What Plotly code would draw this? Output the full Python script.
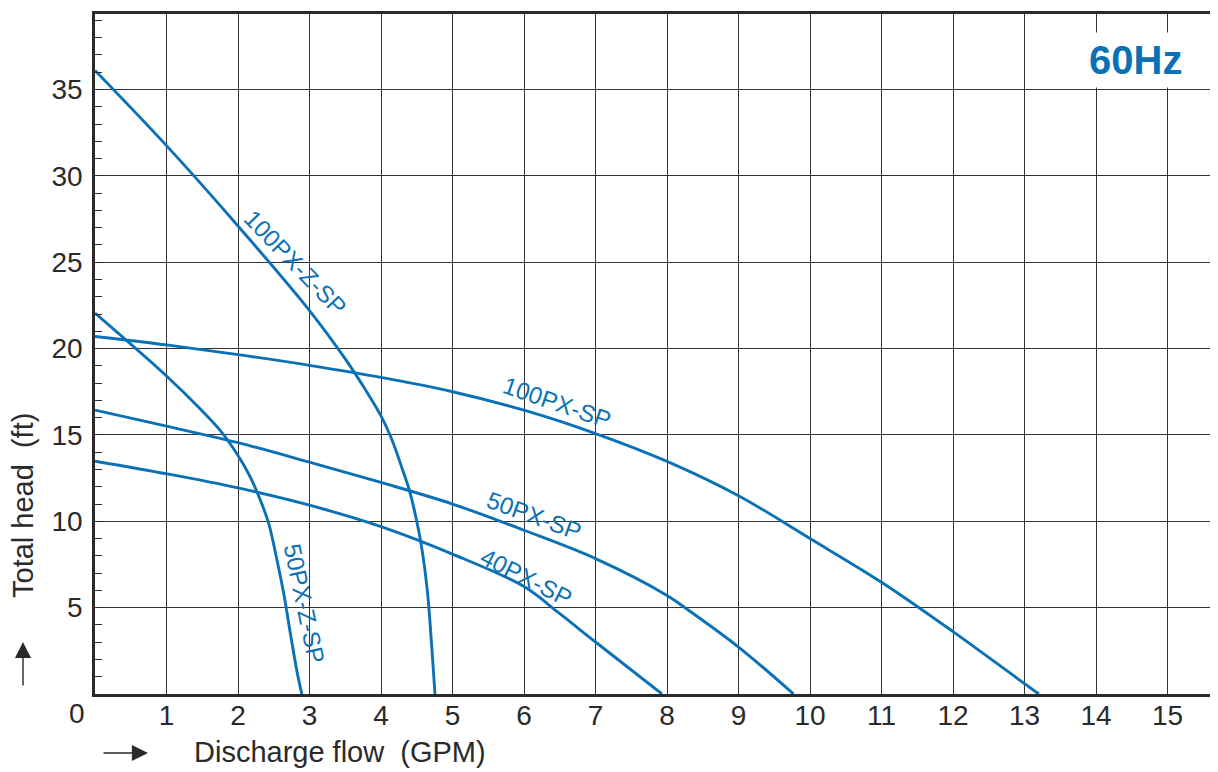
import plotly.graph_objects as go

# ---- data ----
q_100pxzsp = [0, 1, 2, 3, 3.5, 3.8, 4.0, 4.15, 4.3, 4.4, 4.5, 4.58, 4.65, 4.71, 4.755]
h_100pxzsp = [36.1, 31.75, 27.1, 22.2, 19.4, 17.5, 16.1, 14.75, 13.0, 11.75, 10.0, 8.2, 5.9, 2.73, 0]

q_100pxsp = [0, 1, 2, 3, 4, 5, 6, 7, 8, 9, 10, 11, 12, 13, 13.2]
h_100pxsp = [20.7, 20.21, 19.65, 19.03, 18.33, 17.5, 16.43, 15.08, 13.47, 11.48, 9.0, 6.47, 3.61, 0.6, 0]

q_50pxsp = [0, 1, 2, 3, 4, 5, 6, 7, 8, 8.25, 9, 9.77]
h_50pxsp = [16.44, 15.51, 14.55, 13.42, 12.25, 11.0, 9.48, 7.84, 5.71, 5.0, 2.72, 0]

q_40pxsp = [0, 1, 2, 3, 4, 5, 6, 6.5, 7, 7.93]
h_40pxsp = [13.48, 12.75, 11.93, 10.93, 9.69, 8.1, 6.22, 4.65, 3.01, 0]

q_50pxzsp = [0, 1.0, 1.473, 1.753, 2.0, 2.172, 2.312, 2.429, 2.545, 2.639, 2.732, 2.825, 2.892]
h_50pxzsp = [22.05, 18.41, 16.5, 15.25, 13.81, 12.56, 11.23, 9.88, 7.76, 5.83, 3.52, 1.3, 0]

x_ticks = list(range(1, 16))
y_ticks = [5, 10, 15, 20, 25, 30, 35]

series = [
    ("100PX-Z-SP", q_100pxzsp, h_100pxzsp),
    ("100PX-SP", q_100pxsp, h_100pxsp),
    ("50PX-SP", q_50pxsp, h_50pxsp),
    ("40PX-SP", q_40pxsp, h_40pxsp),
    ("50PX-Z-SP", q_50pxzsp, h_50pxzsp),
]

# curve labels: (text, x, y, angle) in data units
curve_labels = [
    ("100PX-Z-SP", 2.8, 24.98, 46),
    ("100PX-SP", 6.46, 16.87, 19),
    ("50PX-SP", 6.14, 10.36, 20),
    ("40PX-SP", 6.04, 6.76, 27),
    ("50PX-Z-SP", 2.93, 5.25, 78),
]

BLUE = "#0a71b6"
DARK = "#2a2a2a"
FONT = "Liberation Sans, Arial, Helvetica, sans-serif"

W, H = 1218, 772
OFF = 8  # page body offset
L, T = 87, 6
B = 86
R = 0
pw, ph = W - L - R, H - T - B

def px(xs):
    return (xs - OFF - L) / pw

def py(ys):
    return (H - B - (ys - OFF)) / ph

fig = go.Figure()
for name, q, h in series:
    fig.add_trace(go.Scatter(x=q, y=h, mode="lines", name=name,
                             line=dict(color=BLUE, width=2.9, shape="spline", smoothing=1.0),
                             showlegend=False))

annotations = []
for text, x, y, ang in curve_labels:
    annotations.append(dict(x=x, y=y, xref="x", yref="y", text=text, showarrow=False,
                            xanchor="center", yanchor="middle",
                            textangle=ang, font=dict(family=FONT, size=24, color=BLUE)))

def txt(xs, ys, text, size, color=DARK, angle=0, **kw):
    d = dict(x=px(xs), y=py(ys), xref="paper", yref="paper", text=text, showarrow=False,
             xanchor="center", yanchor="middle", textangle=angle,
             font=dict(family=FONT, size=size, color=color))
    d.update(kw)
    annotations.append(d)

txt(77, 714, "0", 28)
txt(340, 752, "Discharge flow  (GPM)", 29)
txt(23, 506, "Total head  (ft)", 29, angle=-90)
txt(1135, 60, "<b>60Hz</b>", 40, color=BLUE, bgcolor="white", borderpad=5)

# arrows
annotations.append(dict(x=px(148), y=py(753), xref="paper", yref="paper", text="",
                        showarrow=True, ax=-46, ay=0, arrowhead=2, arrowsize=2.3,
                        arrowwidth=1.4, arrowcolor=DARK))
annotations.append(dict(x=px(23), y=py(642), xref="paper", yref="paper", text="",
                        showarrow=True, ax=0, ay=45, arrowhead=2, arrowsize=2.3,
                        arrowwidth=1.4, arrowcolor=DARK))

fig.update_layout(
    width=W, height=H,
    margin=dict(l=L, r=R, t=T, b=B, autoexpand=False),
    paper_bgcolor="white", plot_bgcolor="white",
    annotations=annotations,
    xaxis=dict(range=[0, pw / 71.5], tickvals=x_ticks, ticktext=[str(v) for v in x_ticks],
               showgrid=True, gridcolor="#333333", gridwidth=1.3,
               showline=True, linecolor=DARK, linewidth=2.5, mirror=True,
               ticks="", zeroline=False, ticklabelstandoff=-5, automargin=False,
               tickfont=dict(family=FONT, size=28, color=DARK)),
    yaxis=dict(range=[0, 39.37], tickvals=y_ticks, ticktext=[str(v) for v in y_ticks],
               showgrid=True, gridcolor="#333333", gridwidth=1.3,
               showline=True, linecolor=DARK, linewidth=2.5,
               ticks="", zeroline=False, ticklabelstandoff=4, automargin=False,
               tickfont=dict(family=FONT, size=28, color=DARK),
               minor=dict(dtick=1, tick0=0, ticks="inside", ticklen=7, tickwidth=1.3,
                          tickcolor=DARK, showgrid=False)),
)

fig.write_html("out.html")
